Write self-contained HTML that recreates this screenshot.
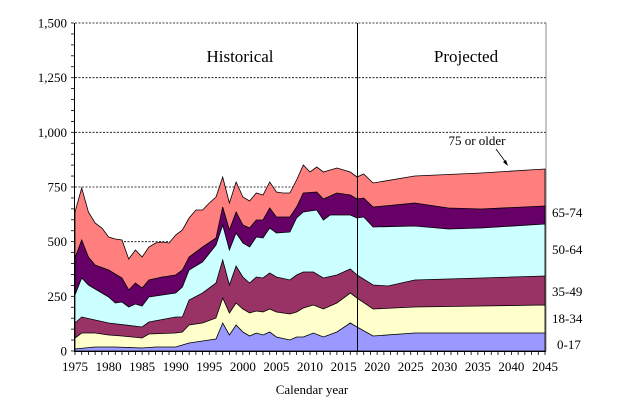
<!DOCTYPE html>
<html><head><meta charset="utf-8"><style>
body{margin:0;background:#fff}
svg, svg text{font-family:"Liberation Serif","Times New Roman",serif;fill:#000}
</style></head><body>
<svg id="s" width="624" height="413" xmlns="http://www.w3.org/2000/svg" font-family="Liberation Serif, serif">
<g id="grid" stroke="#000" stroke-width="0.8" stroke-dasharray="2,1.5"></g>
<g id="areas"></g>
<g id="axes"></g>
<text x="240" y="62" font-size="17" text-anchor="middle" font-family="Liberation Serif, serif">Historical</text>
<text x="466" y="62" font-size="17" text-anchor="middle" font-family="Liberation Serif, serif">Projected</text>
<text x="477" y="145" font-size="13" text-anchor="middle" font-family="Liberation Serif, serif">75 or older</text>
<line x1="496" y1="149" x2="507" y2="164" stroke="#000" stroke-width="0.8"/>
<polygon points="508,166 503,162 506,160" fill="#000"/>
<g font-size="13" font-family="Liberation Serif, serif">
<text x="552" y="217">65-74</text>
<text x="552" y="254">50-64</text>
<text x="552" y="296">35-49</text>
<text x="552" y="323">18-34</text>
<text x="557" y="349">0-17</text>
</g>
<text x="312" y="394" font-size="13" text-anchor="middle" font-family="Liberation Serif, serif">Calendar year</text>
</svg>
<script>
var X=y=>75+(y-1975)*470/70, B=351;
var L={
t75:[[1975,212],[1976,188],[1977,212],[1978,223],[1979,228],[1980,237],[1981,239],[1982,240],[1983,259],[1984,250],[1985,257],[1986,247],[1987,243],[1988,242],[1989,243],[1990,235],[1991,230],[1992,218],[1993,210],[1994,210],[1995,203],[1996,197],[1997,177],[1998,203],[1999,182],[2000,197],[2001,201],[2002,193],[2003,195],[2004,182],[2005,192],[2006,193],[2007,193],[2008,180],[2009,165],[2010,172],[2011,167],[2012,172],[2014,168],[2016,172],[2017,177],[2018,174],[2019.4,183],[2025.6,176],[2035.5,173],[2045,169]],
t65:[[1975,258],[1976,240],[1977,257],[1978,265],[1980,270],[1982,278],[1983,290],[1984,283],[1985,288],[1986,280],[1988,277],[1990,275],[1991,270],[1992,257],[1994,247],[1996,238],[1997,207],[1998,230],[1999,212],[2000,225],[2001,228],[2002,220],[2003,220],[2004,208],[2005,217],[2007,217],[2008,207],[2009,193],[2011,192],[2012,199],[2014,193],[2016,195],[2017,199],[2018,198],[2019.4,207],[2025.6,203],[2030.6,208],[2035.5,209],[2045,206]],
t50:[[1975,295],[1976,278],[1977,285],[1980,297],[1981,303],[1982,302],[1983,307],[1984,304],[1985,306],[1986,297],[1988,295],[1990,293],[1991,287],[1992,270],[1994,262],[1996,245],[1997,225],[1998,250],[1999,233],[2000,243],[2001,247],[2002,237],[2003,238],[2004,228],[2005,233],[2007,232],[2008,218],[2009,212],[2011,210],[2012,220],[2013,215],[2016,215],[2017,218],[2018,217],[2019.4,227],[2025.6,226],[2030.6,229],[2035.5,228],[2045,224]],
t35:[[1975,323],[1976,317],[1978,320],[1980,323],[1985,327],[1986,322],[1990,317],[1991,317],[1992,300],[1994,293],[1996,283],[1997,260],[1998,285],[1999,266],[2000,277],[2001,283],[2002,277],[2003,278],[2004,273],[2005,277],[2007,280],[2008,275],[2009,272],[2010.5,272],[2012,278],[2014,275],[2016,269],[2017,275],[2019.4,285],[2021.6,286],[2025.6,280],[2035.5,278],[2045,276]],
t18:[[1975,338],[1976,333],[1978,333],[1980,335],[1982,336],[1985,338],[1986,334],[1990,333],[1991,332],[1992,325],[1994,323],[1996,318],[1997,298],[1998,313],[1999,303],[2000,309],[2001,313],[2002,311],[2003,312],[2004,309],[2005,312],[2007,314],[2008,312],[2009,308],[2010.5,305],[2012,309],[2014,303],[2016,293],[2017,298],[2019.4,309],[2025.6,307],[2035.5,306],[2045,305]],
t0:[[1975,349],[1978,347],[1981,347],[1985,348],[1987,347],[1990,347],[1991,345],[1992,343],[1994,341],[1996,339],[1997,323],[1998,335],[1999,325],[2000,332],[2001,336],[2002,333],[2003,335],[2004,332],[2005,337],[2007,340],[2008,337],[2009,337],[2010.5,333],[2012,337],[2014,332],[2016,323],[2017,327],[2019.4,336],[2025.6,333],[2035.5,333],[2045,333]]
};
var cols={t75:"#FF7F7F",t65:"#660066",t50:"#CCFFFF",t35:"#993366",t18:"#FFFFCC",t0:"#9999FF"};
var h="";
for(var k in L){var p=L[k].map(a=>X(a[0]).toFixed(1)+","+a[1]).join(" ");
h+='<polygon points="'+X(1975)+','+B+' '+p+' '+X(2045)+','+B+'" fill="'+cols[k]+'" stroke="#000" stroke-width="0.8"/>';}
document.getElementById("areas").innerHTML=h;
var g="";[500,750,1000,1250,1500].forEach(v=>{var yy=351-v*328/1500;g+='<line x1="75" y1="'+yy+'" x2="546" y2="'+yy+'"/>';});
document.getElementById("grid").innerHTML=g;
var F=' font-family="Liberation Serif, serif"';
var a='<line x1="74.5" y1="23" x2="74.5" y2="351" stroke="#000"/><line x1="74" y1="351.5" x2="546" y2="351.5" stroke="#000"/><line x1="546" y1="23" x2="546" y2="351" stroke="#888"/><line x1="357.5" y1="23" x2="357.5" y2="351" stroke="#000"/>';
for(var v=0;v<=1500;v+=50){var yy=351-v*328/1500;a+='<line x1="71" y1="'+yy+'" x2="74" y2="'+yy+'" stroke="#000" stroke-width="0.8"/>';
if(v%250==0)a+='<text x="67" y="'+(yy+4.5)+'" font-size="13" text-anchor="end"'+F+'>'+(v>=1000?(v/1000|0)+","+String(v%1000).padStart(3,"0"):v)+'</text>';}
for(var yr=1975;yr<=2045;yr++){var xx=X(yr);a+='<line x1="'+xx+'" y1="351" x2="'+xx+'" y2="355" stroke="#000" stroke-width="0.8"/>';
if(yr%5==0)a+='<text x="'+xx+'" y="371" font-size="13" text-anchor="middle"'+F+'>'+yr+'</text>';}
document.getElementById("axes").innerHTML=a;
</script>
</body></html>
